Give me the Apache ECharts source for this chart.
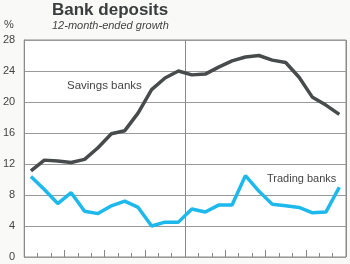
<!DOCTYPE html>
<html><head><meta charset="utf-8">
<script src="https://cdn.jsdelivr.net/npm/echarts@6/dist/echarts.min.js"></script>
<style>html,body{margin:0;padding:0;background:#f9f9f7}#c{width:350px;height:264px}</style>
</head><body><div id="c"></div>
<script>
const months = ['J','F','M','A','M','J','J','A','S','O','N','D','J','F','M','A','M','J','J','A','S','O','N','D'];
const quarters = ['Q1','Q2','Q3','Q4','Q1','Q2','Q3','Q4'];
const years = ['Y1','Y2'];
const savingsBanks = [11.1,12.5,12.4,12.2,12.6,14.1,15.9,16.3,18.6,21.6,23.1,24.0,23.5,23.6,24.5,25.3,25.8,26.0,25.4,25.1,23.2,20.6,19.6,18.4];
const tradingBanks = [10.4,8.7,6.9,8.3,5.9,5.6,6.6,7.2,6.4,4.0,4.5,4.5,6.2,5.8,6.7,6.7,10.5,8.5,6.8,6.6,6.4,5.7,5.8,9.0];
const yTicks = [0,4,8,12,16,20,24,28];

const chart = echarts.init(document.getElementById('c'), null, {renderer:'canvas'});
const font = 'Liberation Sans, Arial, sans-serif';
chart.setOption({
  backgroundColor: '#f9f9f7',
  animation: false,
  textStyle: {fontFamily: font},
  grid: {left: 24, right: 4, top: 40, bottom: 7, show: true, backgroundColor: '#ffffff', borderColor: '#8a8a8a', borderWidth: 1},
  title: [
    {text: 'Bank deposits', left: 52, top: 2, padding: 0, textStyle: {fontSize: 17, fontWeight: 'bold', color: '#3a3d3d', fontFamily: font}},
    {text: '12-month-ended growth', left: 52, top: 20, padding: 0, textStyle: {fontSize: 11, fontStyle: 'italic', fontWeight: 'normal', color: '#444', fontFamily: font}}
  ],
  graphic: [
    {type: 'text', left: 4, top: 19, style: {text: '%', fontSize: 11, fill: '#444', fontFamily: font}},
    {type: 'text', left: 67, top: 80, style: {text: 'Savings banks', fontSize: 11.5, fill: '#444', fontFamily: font}},
    {type: 'text', left: 267, top: 173, style: {text: 'Trading banks', fontSize: 11, fill: '#444', fontFamily: font}}
  ],
  xAxis: [
    {type: 'category', data: months, boundaryGap: true, position: 'bottom',
     axisLine: {show: false}, axisLabel: {show: false}, splitLine: {show: false},
     axisTick: {show: true, inside: true, length: 4, interval: 0, lineStyle: {color: '#888'}}},
    {type: 'category', data: quarters, boundaryGap: true, position: 'bottom',
     axisLine: {show: false}, axisLabel: {show: false}, splitLine: {show: false},
     axisTick: {show: true, inside: true, length: 7, interval: 0, lineStyle: {color: '#888'}}},
    {type: 'category', data: years, boundaryGap: true, position: 'bottom',
     axisLine: {show: false}, axisLabel: {show: false}, axisTick: {show: false},
     splitLine: {show: true, interval: 0, lineStyle: {color: '#8a8a8a', width: 1}}}
  ],
  yAxis: {
    type: 'value', min: 0, max: 28, interval: 4,
    axisLine: {show: true, lineStyle: {color: '#8a8a8a'}}, axisTick: {show: false},
    axisLabel: {fontSize: 11, color: '#444', margin: 9, fontFamily: font,
      formatter: v => yTicks.includes(v) ? String(v) : ''},
    splitLine: {show: true, lineStyle: {color: '#9a9a9a', width: 1}}
  },
  series: [
    {name: 'Savings banks', type: 'line', xAxisIndex: 0, data: savingsBanks, symbol: 'none',
     lineStyle: {color: '#474b4b', width: 3.5}, z: 3},
    {name: 'Trading banks', type: 'line', xAxisIndex: 0, data: tradingBanks, symbol: 'none',
     lineStyle: {color: '#1db8ec', width: 3.5}, z: 4}
  ]
});
</script></body></html>
